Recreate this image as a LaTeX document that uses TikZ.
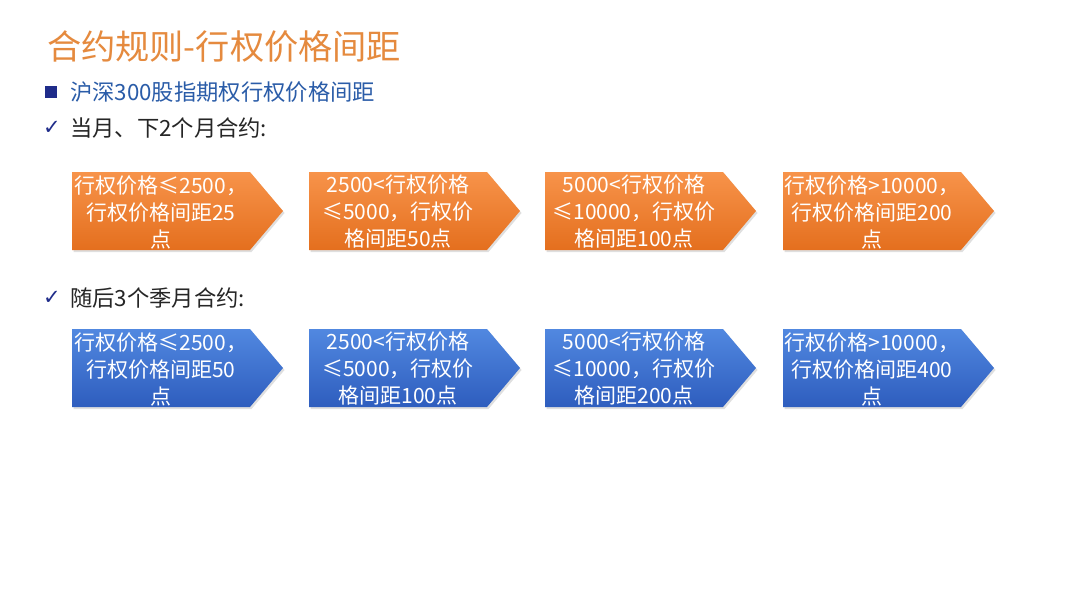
\documentclass[tikz,border=0pt]{standalone}
\usepackage{fontspec}
\setmainfont{Noto Sans CJK SC}
\newfontfamily\symfont{DejaVu Sans}
\usetikzlibrary{shadows,calc}
\definecolor{titleorange}{HTML}{E58A3E}
\definecolor{headblue}{HTML}{2A5CA8}
\definecolor{navy}{HTML}{1F2C8A}
\definecolor{orgtop}{HTML}{F7934A}
\definecolor{orgbot}{HTML}{E46F1E}
\definecolor{blutop}{HTML}{5188E0}
\definecolor{blubot}{HTML}{2E5DBE}
\definecolor{txtgray}{HTML}{262626}
\tikzset{
  orangefill/.style={top color=orgtop, bottom color=orgbot, draw=none,
     drop shadow={opacity=0.25, shadow xshift=1.5pt, shadow yshift=-2pt}},
  bluefill/.style={top color=blutop, bottom color=blubot, draw=none,
     drop shadow={opacity=0.25, shadow xshift=1.5pt, shadow yshift=-2pt}},
  arrowtext/.style={text=white, font=\fontsize{21}{27}\selectfont, align=center, inner sep=0pt},
  bullettext/.style={anchor=west, inner sep=0pt, font=\fontsize{22.3}{26}\selectfont},
  checkmark/.style={inner sep=0pt, text=navy, font=\symfont\fontsize{21}{24}\selectfont},
}
% #1 name, #2 left x, #3 top y, #4 fill style, #5 text
\newcommand\pentarrow[5]{%
  \path[#4] (#2,#3) -- ++(178,0) -- ++(33,39) -- ++(-33,39) -- ++(-178,0) -- cycle;
  \node[arrowtext] (#1) at ($(#2,#3)+(89,40)$) {#5};
}
\begin{document}
\begin{tikzpicture}[x=1pt,y=-1pt]
\useasboundingbox (0,0) rectangle (1080,608);
\fill[white] (0,0) rectangle (1080,608);
% title
\node[anchor=west, inner sep=0pt, text=titleorange, font=\fontsize{34.2}{38}\selectfont] (title) at (47,47) {合约规则-行权价格间距};
% bullets
\node[fill=navy, minimum size=12pt, inner sep=0pt] (sq) at (51,92) {};
\node[bullettext, text=headblue] (h1) at (70,92) {沪深300股指期权行权价格间距};
\node[checkmark] (ck1) at (52,128) {✓};
\node[bullettext, text=txtgray] (h2) at (70,128) {当月、下2个月合约:};
\node[checkmark] (ck2) at (52,298) {✓};
\node[bullettext, text=txtgray] (h3) at (70,298) {随后3个季月合约:};
% row 1
\pentarrow{a1}{72}{172}{orangefill}{行权价格≤2500，\\行权价格间距25\\点}
\pentarrow{a2}{309}{172}{orangefill}{2500<行权价格\\≤5000，行权价\\格间距50点}
\pentarrow{a3}{545}{172}{orangefill}{5000<行权价格\\≤10000，行权价\\格间距100点}
\pentarrow{a4}{783}{172}{orangefill}{行权价格>10000，\\行权价格间距200\\点}
% row 2
\pentarrow{b1}{72}{329}{bluefill}{行权价格≤2500，\\行权价格间距50\\点}
\pentarrow{b2}{309}{329}{bluefill}{2500<行权价格\\≤5000，行权价\\格间距100点}
\pentarrow{b3}{545}{329}{bluefill}{5000<行权价格\\≤10000，行权价\\格间距200点}
\pentarrow{b4}{783}{329}{bluefill}{行权价格>10000，\\行权价格间距400\\点}
\end{tikzpicture}
\end{document}
